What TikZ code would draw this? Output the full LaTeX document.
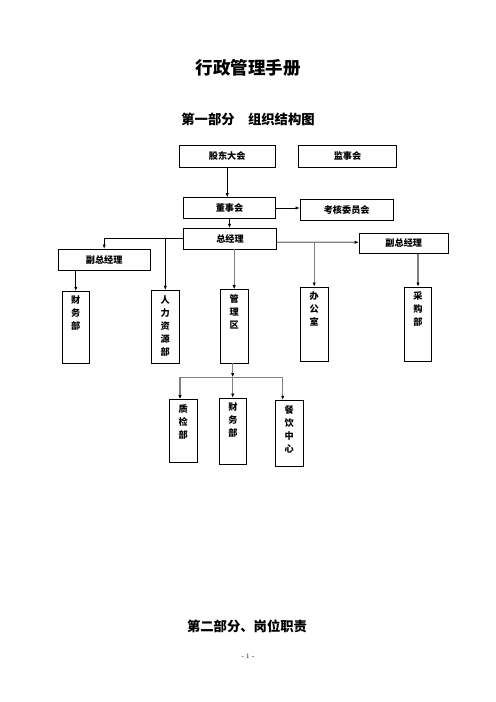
\documentclass[tikz,border=0pt]{standalone}
\usepackage{fontspec}
\newfontfamily\cjk{Noto Sans CJK SC}
\usetikzlibrary{arrows.meta}

\begin{document}
\begin{tikzpicture}[x=1.2pt,y=-1.2pt,
    box/.style={draw,line width=0.8pt,inner sep=0pt,font=\cjk\bfseries\fontsize{11}{13}\selectfont},
    col/.style={box,anchor=north,minimum width=33pt},
    vtext/.style={anchor=north,align=center,inner sep=0pt,yshift=-6pt,font=\cjk\bfseries\fontsize{11}{15.6}\selectfont},
    link/.style={line width=0.8pt,-{Latex[length=5pt,width=4pt,color=black]}},
    glink/.style={link,draw=black!50,line width=1.4pt}]
      \useasboundingbox (0,0) rectangle (496,702);
      % headings
      \node[font=\cjk\bfseries\fontsize{21}{25}\selectfont] (title) at (248,68) {行政管理手册};
      \node[font=\cjk\bfseries\fontsize{16}{19}\selectfont] (part1) at (248,119) {第一部分　组织结构图};
      \node[font=\cjk\bfseries\fontsize{16}{19}\selectfont] (part2) at (247,626) {第二部分、岗位职责};
      \node[font=\fontsize{8}{10}\selectfont] (page) at (248,656) {- 1 -};
      % top levels
      \node[box,minimum width=115pt,minimum height=27pt] (gd) at (227.2,156.4) {股东大会};
      \node[box,minimum width=118pt,minimum height=27pt] (js) at (347.5,156.4) {监事会};
      \node[box,minimum width=111pt,minimum height=25pt] (dsh) at (229.5,208) {董事会};
      \node[box,minimum width=112pt,minimum height=25pt] (khw) at (346.7,209.7) {考核委员会};
      \node[box,minimum width=112pt,minimum height=25pt] (zjl) at (230,238.7) {总经理};
      \node[box,minimum width=107pt,minimum height=24pt] (fzR) at (403.8,243.3) {副总经理};
      \node[box,minimum width=110pt,minimum height=25pt] (fzL) at (104.2,259.5) {副总经理};
      % departments
      \node[col,minimum height=86pt,label={[vtext]north:财\\务\\部}] (cw1) at (75.8,291) {};
      \node[col,minimum height=88pt,label={[vtext]north:人\\力\\资\\源\\部}] (rl) at (165.3,290) {};
      \node[col,minimum height=88pt,label={[vtext]north:管\\理\\区}] (glq) at (234.2,289.3) {};
      \node[col,minimum height=89pt,label={[vtext]north:办\\公\\室}] (bgs) at (314.2,286.7) {};
      \node[col,minimum height=89pt,label={[vtext]north:采\\购\\部}] (cgb) at (418,286.7) {};
      \node[col,minimum height=75pt,label={[vtext]north:质\\检\\部}] (zjb) at (183.3,399.3) {};
      \node[col,minimum height=80pt,label={[vtext]north:财\\务\\部}] (cw2) at (233,397.7) {};
      \node[col,minimum height=79pt,label={[vtext]north:餐\\饮\\中\\心}] (cyzx) at (289.2,400) {};
      \coordinate (split) at (232.7,377.3);
      \begin{scope}[link]
        \draw (gd.south) -- (gd.south |- dsh.north);
        \draw (dsh.east) -- (dsh.east -| khw.west);
        \draw (dsh.south) -- (dsh.south |- zjl.north);
        \draw (zjl.west) -| (fzL.north);
        \draw (zjl.west -| rl.north) -- (rl.north);
        \draw (fzL.south -| cw1.north) -- (cw1.north);
      \end{scope}
      \begin{scope}[glink]
        \draw (zjl.east) ++(0,3.6) -- (fzR.west |- 0,242.3);
        \draw (bgs.north |- 0,242.3) -- (bgs.north);
        \draw (glq.north |- zjl.south) -- (glq.north);
        \draw (cgb.north |- fzR.south) -- (cgb.north);
        \draw (glq.south -| split) -- (split);
        \draw (split) -| ([xshift=-4pt]zjb.north);
        \draw (split) -- (split |- cw2.north);
        \draw (split) -| ([xshift=-7.8pt]cyzx.north);
      \end{scope}
    \end{tikzpicture}
\end{document}
